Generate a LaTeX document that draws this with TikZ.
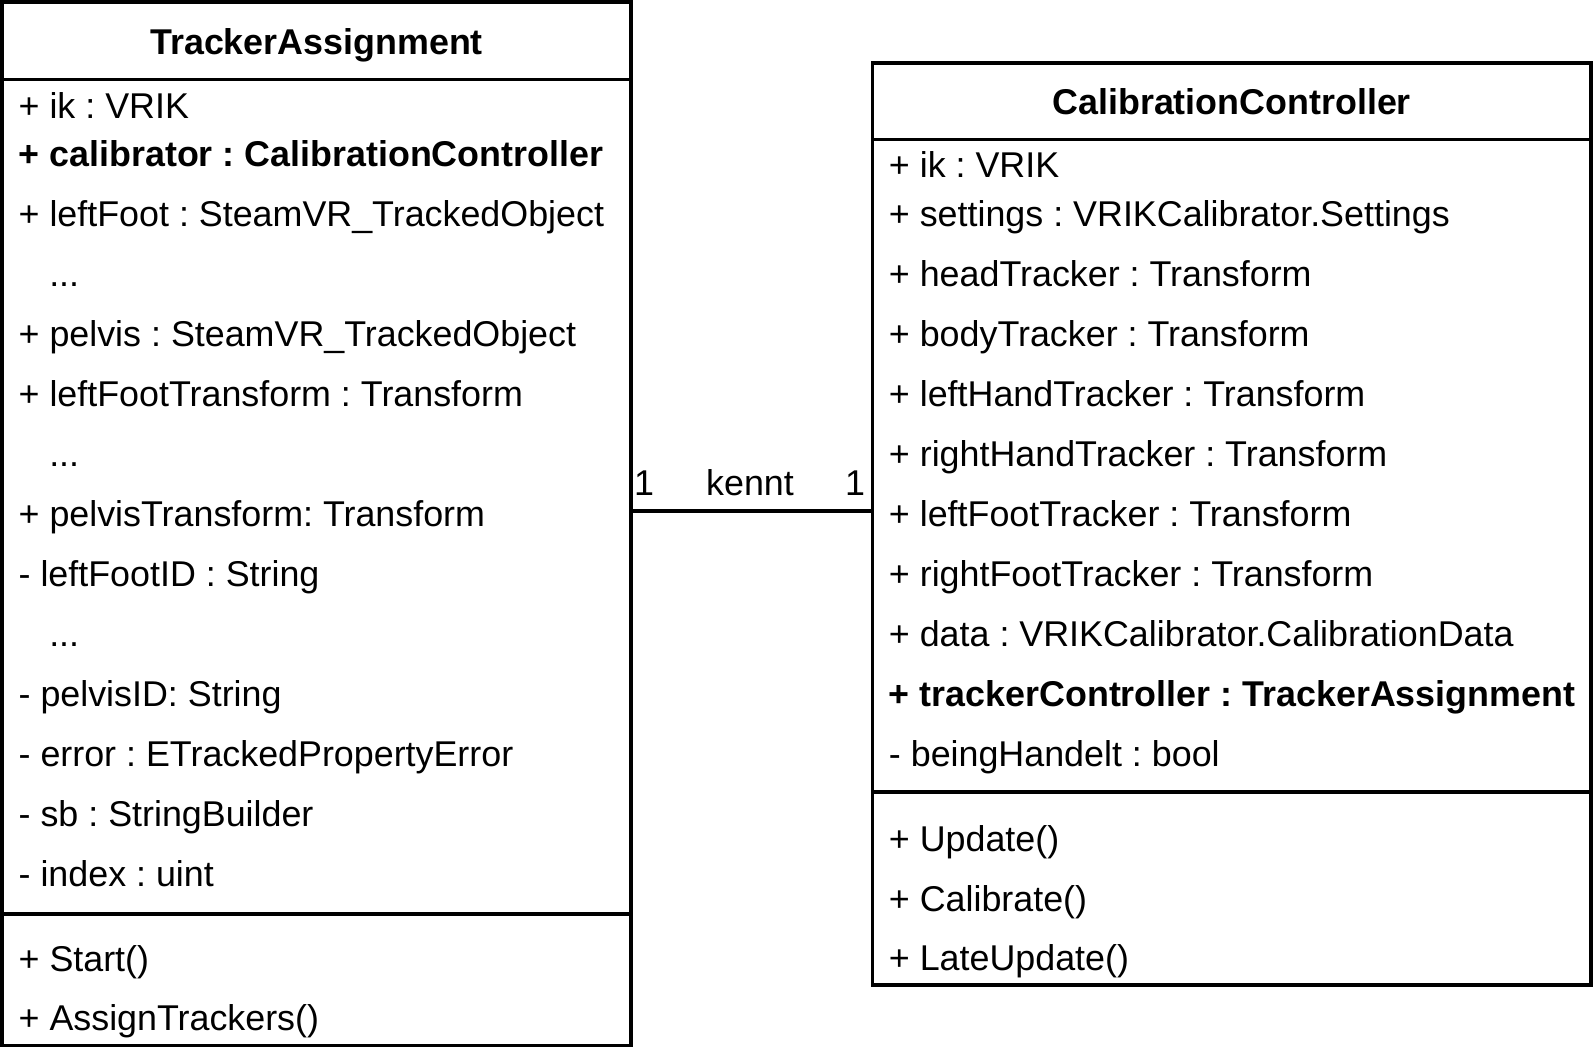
\documentclass[tikz,border=0pt]{standalone}
\usepackage{fontspec}
\setmainfont{Liberation Sans}
\usetikzlibrary{positioning}
\frenchspacing

\begin{document}
\begin{tikzpicture}[
        x=0.02cm, y=-0.02cm,
        font=\fontsize{20.4}{24}\selectfont,
        classbox/.style={
            draw,
            rectangle,
            line width=2pt,
            inner sep=0pt
        },
        divider/.style={
            line width=2pt
        },
        title/.style={
            inner sep=0pt,
            yshift=-0.14cm,
            text height=0.72em,
            text depth=0pt,
            font=\fontsize{20.4}{24}\selectfont\bfseries
        },
        member/.style={
            anchor=west,
            inner sep=0pt,
            yshift=-0.14cm,
            text height=0.72em,
            text depth=0pt
        },
        assoc/.style={
            line width=2pt
        },
        mult/.style={
            inner sep=0pt,
            yshift=-0.14cm,
            text height=0.72em,
            text depth=0pt
        }
    ]
        \useasboundingbox (0,0) rectangle (1596,1050);

        % the two classes
        \node (ta) [classbox, minimum width=12.582cm, minimum height=20.868cm] at (316.55,523.7) {};
        \node (cc) [classbox, minimum width=14.374cm, minimum height=18.444cm] at (1231.65,524.2) {};

        \draw[divider] (2,79.4) -- (631.1,79.4);
        \draw[divider] (2,914.1) -- (631.1,914.1);
        \draw[divider] (872.3,139.5) -- (1591,139.5);
        \draw[divider] (872.3,791.9) -- (1591,791.9);

        \node (ta-title) [title] at (316.55,40.7) {TrackerAssignment};
        \node (cc-title) [title] at (1231.65,100.8) {CalibrationController};

        % TrackerAssignment members
        \foreach \xx/\yy/\txt [count=\i] in {
            18.3/104.8/{+ ik : VRIK},
            18.3/152.7/{\textbf{+ calibrator : CalibrationController}},
            18.3/212.7/{+ leftFoot : SteamVR\_TrackedObject},
            48.9/272.8/{...},
            18.3/332.9/{+ pelvis : SteamVR\_TrackedObject},
            18.3/392.9/{+ leftFootTransform : Transform},
            48.9/453.0/{...},
            18.3/513.0/{+ pelvisTransform: Transform},
            18.3/573.1/{- leftFootID : String},
            48.9/633.1/{...},
            18.3/693.2/{- pelvisID: String},
            18.3/753.2/{- error : ETrackedPropertyError},
            18.3/813.3/{- sb : StringBuilder},
            18.3/873.4/{- index : uint},
            18.3/957.8/{+ Start()},
            18.3/1016.9/{+ AssignTrackers()}}
            \node (ta-\i) [member] at (\xx,\yy) {\txt};

        % CalibrationController members
        \foreach \yy/\txt [count=\i] in {
            163.9/{+ ik : VRIK},
            212.7/{+ settings : VRIKCalibrator.Settings},
            272.8/{+ headTracker : Transform},
            332.9/{+ bodyTracker : Transform},
            392.9/{+ leftHandTracker : Transform},
            453.0/{+ rightHandTracker : Transform},
            513.0/{+ leftFootTracker : Transform},
            573.1/{+ rightFootTracker : Transform},
            633.1/{+ data : VRIKCalibrator.CalibrationData},
            693.2/{\textbf{+ trackerController : TrackerAssignment}},
            753.2/{- beingHandelt : bool},
            837.7/{+ Update()},
            897.8/{+ Calibrate()},
            956.8/{+ LateUpdate()}}
            \node (cc-\i) [member] at (888.6,\yy) {\txt};

        % association
        \coordinate (link) at (0,511);
        \draw[assoc] (ta.east |- link) -- (cc.west |- link);
        \node (mult-ta) [mult] at (644,482.5) {1};
        \node (kennt) [mult] at (750,482.5) {kennt};
        \node (mult-cc) [mult] at (855,482.5) {1};
    \end{tikzpicture}
\end{document}
